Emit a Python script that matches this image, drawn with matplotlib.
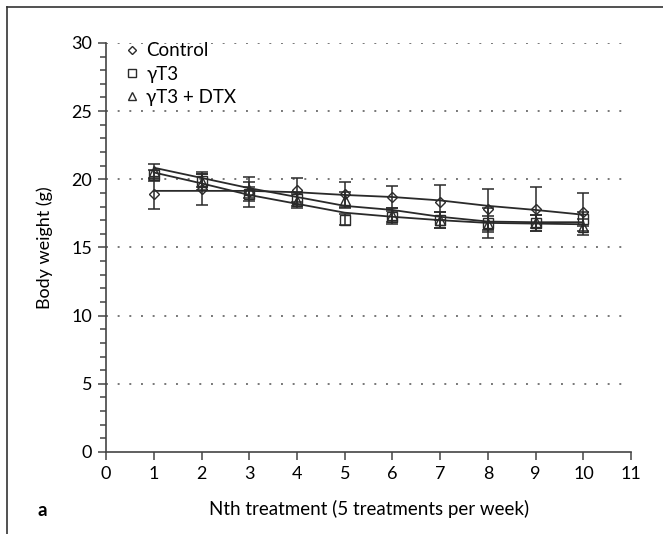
import matplotlib
matplotlib.use("Agg")
import matplotlib.pyplot as plt
from matplotlib.lines import Line2D
from matplotlib.ticker import MultipleLocator

plt.rcParams['font.family'] = ['Lato', 'DejaVu Sans']

treatments = [1, 2, 3, 4, 5, 6, 7, 8, 9, 10]

# measured means and error bars
control_mean = [18.9, 19.3, 19.1, 19.2, 18.9, 18.7, 18.3, 17.8, 17.8, 17.6]
control_err = [1.1, 1.2, 1.1, 0.9, 0.9, 0.8, 1.3, 1.5, 1.6, 1.4]
gt3_mean = [20.3, 19.9, 18.9, 18.55, 17.05, 17.2, 17.0, 16.8, 16.8, 17.1]
gt3_err = [0.4, 0.5, 0.5, 0.5, 0.4, 0.5, 0.6, 1.1, 0.6, 0.5]
dtx_mean = [20.6, 19.8, 19.2, 18.4, 18.5, 17.4, 17.0, 16.7, 16.9, 16.5]
dtx_err = [0.5, 0.6, 0.6, 0.5, 0.6, 0.5, 0.6, 0.6, 0.5, 0.6]

# trend lines as drawn
control_fit = [19.15, 19.15, 19.15, 19.05, 18.85, 18.7, 18.45, 18.05, 17.75, 17.4]
gt3_fit = [20.5, 19.7, 18.85, 18.2, 17.55, 17.25, 17.0, 16.8, 16.75, 16.7]
dtx_fit = [20.85, 20.1, 19.35, 18.7, 18.05, 17.75, 17.25, 16.9, 16.85, 16.85]

labels = ['Control', 'γT3', 'γT3 + DTX']

fig = plt.figure(figsize=(6.63, 5.34), dpi=100)
ax = fig.add_axes([0.160, 0.1536, 0.792, 0.766])

lc = '#2a2a2a'
for mean, err, fit, mk, ms in [(control_mean, control_err, control_fit, 'D', 5.0),
                               (gt3_mean, gt3_err, gt3_fit, 's', 7),
                               (dtx_mean, dtx_err, dtx_fit, '^', 7)]:
    ax.plot(treatments, fit, color=lc, lw=1.3, zorder=3)
    ax.errorbar(treatments, mean, yerr=err, fmt='none', ecolor=lc, elinewidth=1.1,
                capsize=4, capthick=1.1, zorder=4)
    ax.plot(treatments, mean, linestyle='none', marker=mk, ms=ms, mfc='none',
            mec=lc, mew=1.0, zorder=5)

ax.set_xlim(0, 11)
ax.set_ylim(0, 30)
ax.xaxis.set_major_locator(MultipleLocator(1))
ax.yaxis.set_major_locator(MultipleLocator(5))
ax.yaxis.set_minor_locator(MultipleLocator(1))

for y in [5, 10, 15, 20, 25, 30]:
    ax.axhline(y, color='#777777', lw=1.4, linestyle=(0, (1, 5)), zorder=1)

for s in ['top', 'right']:
    ax.spines[s].set_visible(False)
for s in ['left', 'bottom']:
    ax.spines[s].set_color('#444444')
    ax.spines[s].set_linewidth(1.2)
ax.tick_params(axis='both', which='major', length=6, width=1.1, color='#444444',
               labelsize=13, pad=4)
ax.tick_params(axis='y', which='minor', length=4, width=1.1, color='#444444')

ax.set_ylabel('Body weight (g)', fontsize=13)
ax.yaxis.set_label_coords(-0.101, 0.5)

ax.set_xlabel('Nth treatment (5 treatments per week)', fontsize=13.5)
ax.xaxis.set_label_coords(0.5, (452 - 500) / 409)

handles = [Line2D([], [], linestyle='none', marker=m, ms=s, mfc='none', mec=lc, mew=1.0)
           for m, s in zip(['D', 's', '^'], [4.0, 6.0, 6.0])]
ax.legend(handles, labels, loc='upper left', bbox_to_anchor=(0.018, 1.02), frameon=False,
          fontsize=13.5, handletextpad=0.25, labelspacing=0.34,
          handlelength=1.0, borderaxespad=0.0)

fig.text(38 / 663, 1 - 510 / 534, 'a', fontsize=13.5, fontweight='bold', va='center')

fig.add_artist(Line2D([7 / 663, 7 / 663], [0, 1 - 7 / 534], color='#333333', lw=1.2))
fig.add_artist(Line2D([7 / 663, 1], [1 - 7 / 534, 1 - 7 / 534], color='#333333', lw=1.2))

fig.savefig('out.png', dpi=100)
